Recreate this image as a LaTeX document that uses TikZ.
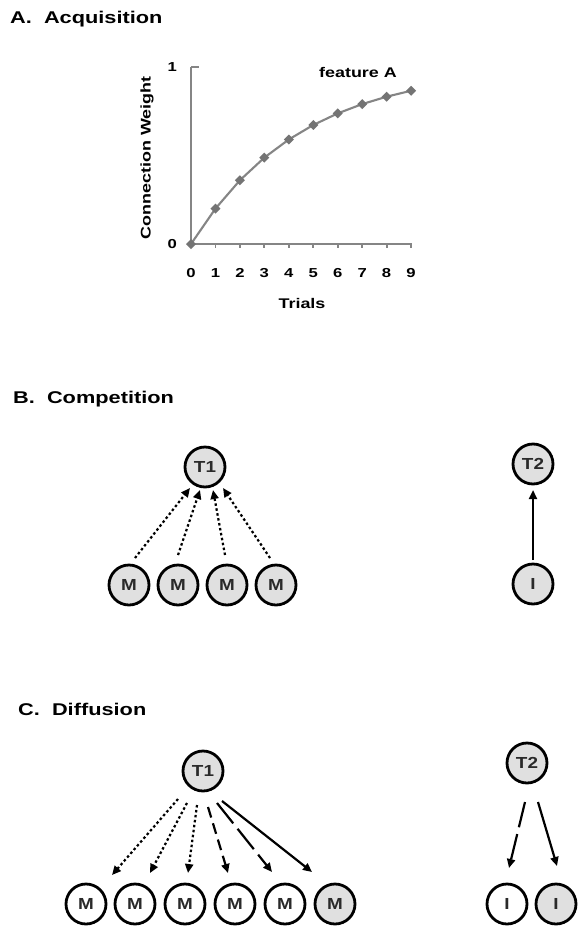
\documentclass[tikz,border=0pt]{standalone}
\usepackage{fontspec}
\setmainfont{Liberation Sans}
\usetikzlibrary{arrows.meta,calc}
\definecolor{nodegray}{HTML}{E0E0E0}
\definecolor{axisgray}{HTML}{858585}
\definecolor{markgray}{HTML}{747474}
\definecolor{txtgray}{HTML}{2A2A2A}
\newcommand{\wide}[1]{\scalebox{1.28}[1]{#1}}
\newcommand{\nwide}[1]{\scalebox{1.18}[1]{#1}}
\tikzset{
  nd/.style={circle, draw=black, line width=2.8pt, minimum size=40pt, inner sep=0pt,
    fill=nodegray, text=txtgray, font=\fontsize{16}{16}\selectfont\bfseries},
  wnd/.style={nd, fill=white},
  arr/.style={-{Triangle[length=9pt,width=8pt]}, line width=2.2pt, black},
  dotarr/.style={arr, dash pattern=on 2.5pt off 2.5pt},
  shortdash/.style={arr, dash pattern=on 11pt off 6pt},
  longdash/.style={arr, dash pattern=on 26pt off 7pt},
  title/.style={anchor=base west, inner sep=0pt, font=\fontsize{17}{17}\selectfont\bfseries},
  lbl/.style={inner sep=0pt, font=\fontsize{14}{14}\selectfont\bfseries},
  tick/.style={inner sep=0pt, font=\fontsize{13}{13}\selectfont\bfseries},
  axis/.style={draw=axisgray, line width=1.9pt},
  curve/.style={draw=axisgray, line width=2.1pt}
}
\begin{document}
\begin{tikzpicture}[x=1pt,y=-1pt]
\useasboundingbox[fill=white] (0,0) rectangle (579,929);

% ---------- A ----------
\node[title] (tA) at (10,23.5) {\wide{A.\ \ Acquisition}};
\draw[axis] (191,67) -- (191,244) -- (412,244);
\draw[axis] (191,67) -- (199,67);
\foreach \i in {0,...,9} {
  \draw[axis] ({191+24.45*\i},244) -- ++(0,4);
  \node[tick] (x\i) at ({191+24.45*\i},273) {\wide{\i}};
}
\node[tick, anchor=east] (y1) at (177,67) {\wide{1}};
\node[tick, anchor=east] (y0) at (177,244) {\wide{0}};
\node[lbl] (xl) at (302,303) {\wide{Trials}};
\node[lbl, rotate=90] (yl) at (147,158) {\wide{Connection Weight}};
\node[lbl] (fa) at (358,72) {\wide{feature A}};
\draw[curve] (191,244) foreach \i in {1,...,9} { -- ({191+24.45*\i},{244-177*(1-0.8^\i)}) };
\foreach \i in {0,...,9} {
  \fill[markgray] ({191+24.45*\i},{244-177*(1-0.8^\i)}) ++(0,-5) -- ++(5,5) -- ++(-5,5) -- ++(-5,-5) -- cycle;
}

% ---------- B ----------
\node[title] (tB) at (13,403) {\wide{B.\ \ Competition}};
\node[nd] (bT1) at (205,467) {\nwide{T1}};
\node[nd] (bM1) at (129,585) {\nwide{M}};
\node[nd] (bM2) at (178,585) {\nwide{M}};
\node[nd] (bM3) at (227,585) {\nwide{M}};
\node[nd] (bM4) at (276,585) {\nwide{M}};
\node[nd] (bT2) at (533,464) {\nwide{T2}};
\node[nd] (bI)  at (533,584) {\nwide{I}};
\draw[dotarr] ($(bM1)+(6,-27)$) -- ($(bT1)+(-15,21)$);
\draw[dotarr] ($(bM2)+(0,-30)$) -- ($(bT1)+(-5,23)$);
\draw[dotarr] ($(bM3)+(-2,-30)$) -- ($(bT1)+(8,23)$);
\draw[dotarr] ($(bM4)+(-6,-27)$) -- ($(bT1)+(18,21)$);
\draw[arr] ($(bI)+(0,-24)$) -- ($(bT2)+(0,26)$);

% ---------- C ----------
\node[title] (tC) at (18,715.5) {\wide{C.\ \ Diffusion}};
\node[nd] (cT1) at (203,771) {\nwide{T1}};
\node[wnd] (cM1) at (86,904) {\nwide{M}};
\node[wnd] (cM2) at (135,904) {\nwide{M}};
\node[wnd] (cM3) at (185,904) {\nwide{M}};
\node[wnd] (cM4) at (235,904) {\nwide{M}};
\node[wnd] (cM5) at (285,904) {\nwide{M}};
\node[nd]  (cM6) at (335,904) {\nwide{M}};
\node[nd]  (cT2) at (527,763) {\nwide{T2}};
\node[wnd] (cI1) at (507,904) {\nwide{I}};
\node[nd]  (cI2) at (556,904) {\nwide{I}};
\draw[dotarr]    ($(cT1)+(-25,28)$) -- ($(cM1)+(26,-29)$);
\draw[dotarr]    ($(cT1)+(-16,32)$) -- ($(cM2)+(15,-31)$);
\draw[dotarr]    ($(cT1)+(-6,34)$)  -- ($(cM3)+(3,-31)$);
\draw[shortdash] ($(cT1)+(5,36)$)   -- ($(cM4)+(-7,-31)$);
\draw[longdash]  ($(cT1)+(14,32)$)  -- ($(cM5)+(-13,-32)$);
\draw[arr]       ($(cT1)+(19,30)$)  -- ($(cM6)+(-23,-32)$);
\draw[longdash]  ($(cT2)+(-2,39)$)  -- ($(cI1)+(2,-36)$);
\draw[arr]       ($(cT2)+(11,39)$)  -- ($(cI2)+(1,-38)$);
\end{tikzpicture}
\end{document}
